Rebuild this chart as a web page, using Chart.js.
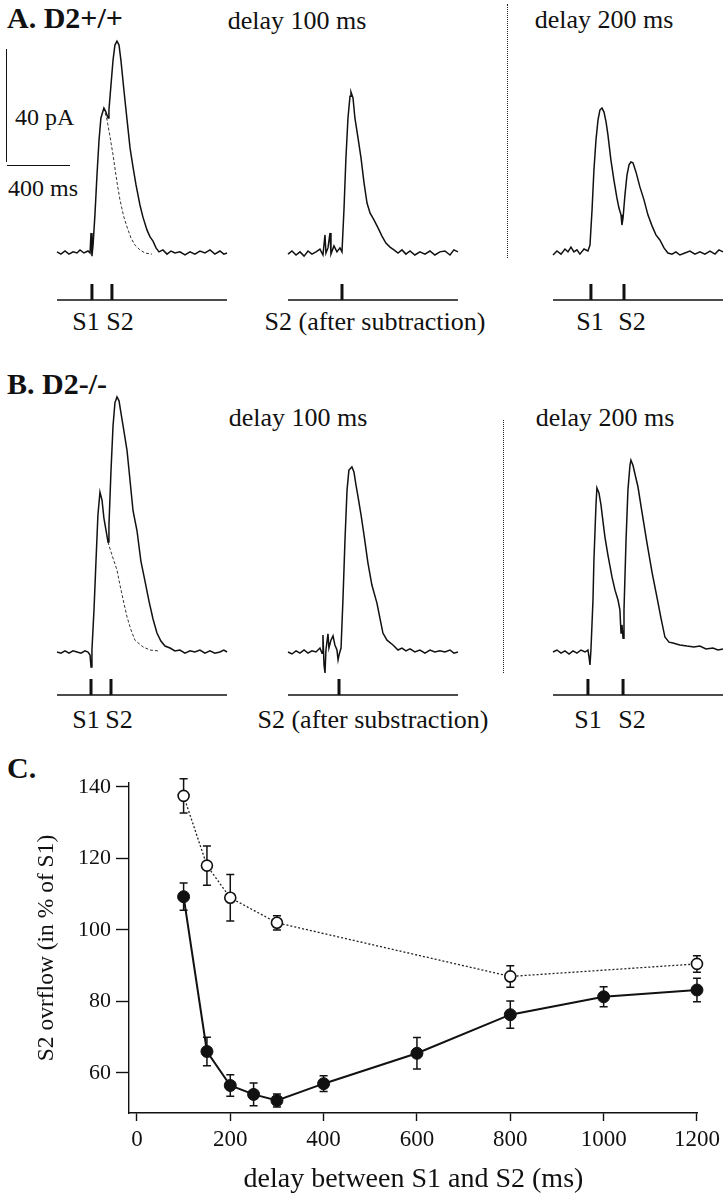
<!DOCTYPE html>
<html>
<head>
<meta charset="utf-8">
<script src="https://cdn.jsdelivr.net/npm/chart.js@4.4.0/dist/chart.umd.min.js"></script>
<style>
  html, body { margin: 0; padding: 0; background: #fff; }
  #fig { position: relative; width: 725px; height: 1199px; overflow: hidden;
         font-family: "Liberation Serif", "Times New Roman", serif; color: #111; }
  .lbl { position: absolute; white-space: nowrap; line-height: 1; transform: translate(-50%, -50%); }
  .lbl.start { transform: translate(0, -50%); }
  .head { font-weight: bold; font-size: 30px; }
  .t26 { font-size: 26px; }
  .t24 { font-size: 24px; }
  .stim { font-size: 26px; }
  .sep { position: absolute; width: 0; border-left: 1.5px dotted #222; }
  .bar { position: absolute; background: #111; }
  .trace { position: absolute; }
</style>
</head>
<body>
<div id="fig">
  <!-- panel A -->
  <div class="lbl start head" style="left:7px; top:18px;">A. D2+/+</div>
  <div class="lbl t26" style="left:297px; top:21px;">delay 100 ms</div>
  <div class="lbl t26" style="left:604px; top:20px;">delay 200 ms</div>
  <div class="sep" style="left:507px; top:4px; height:254px;"></div>
  <div class="bar" style="left:6px; top:49px; width:1.4px; height:113px;"></div>
  <div class="bar" style="left:7px; top:165px; width:63px; height:1.4px;"></div>
  <div class="lbl start t24" style="left:15px; top:117px;">40 pA</div>
  <div class="lbl start t24" style="left:8px; top:188px;">400 ms</div>
  <div class="lbl stim" style="left:86px; top:322px;">S1</div>
  <div class="lbl stim" style="left:120px; top:322px;">S2</div>
  <div class="lbl stim" style="left:375px; top:322px;">S2 (after subtraction)</div>
  <div class="lbl stim" style="left:590px; top:322px;">S1</div>
  <div class="lbl stim" style="left:632px; top:322px;">S2</div>

  <!-- panel B -->
  <div class="lbl start head" style="left:7px; top:384px;">B. D2-/-</div>
  <div class="lbl t26" style="left:298px; top:418px;">delay 100 ms</div>
  <div class="lbl t26" style="left:605px; top:418px;">delay 200 ms</div>
  <div class="sep" style="left:503px; top:420px; height:253px;"></div>
  <div class="lbl stim" style="left:86px; top:720px;">S1</div>
  <div class="lbl stim" style="left:119px; top:720px;">S2</div>
  <div class="lbl stim" style="left:373px; top:720px;">S2 (after substraction)</div>
  <div class="lbl stim" style="left:588px; top:720px;">S1</div>
  <div class="lbl stim" style="left:632px; top:720px;">S2</div>

  <!-- panel C -->
  <div class="lbl start head" style="left:7px; top:768px;">C.</div>
  <canvas id="curve" width="725" height="439" style="position:absolute; left:0; top:760px;"></canvas>
</div>

<script>
// ---- traces: [time (ms), current (pA above baseline)]
const traceA1 = [[0,0.4],[25,-0.4],[51,0.7],[76,-0.4],[102,0.4],[127,0],[146,1.1],[171,0],[197,0.7],[210,0],
  [216,7.1],[222,-1.1],[229,2.8],[241,13.5],[254,27.6],[267,40],[279,47.8],[298,51.3],[311,49.9],[324,47.8],
  [330,50.6],[343,59.5],[356,68.3],[368,73.6],[381,75],[394,73.6],[406,68.3],[425,57.7],[445,47.1],[464,37.2],
  [483,30.4],[502,24.1],[527,17],[546,12.7],[572,8.1],[591,5.7],[610,4.2],[629,1.8],[648,0.4],[673,1.1],
  [699,-0.4],[724,0.7],[749,0],[781,0.4],[813,-0.7],[845,0.4],[876,-0.4],[908,0.7],[940,0],[972,1.1],
  [1003,-0.4],[1035,0.7],[1060,-0.4],[1080,0]];
const traceA1S1 = [[298,51.3],[318,47.1],[337,41.1],[356,34.7],[381,25.1],[400,18.8],[425,12.7],[445,9.2],
  [470,5.3],[495,2.8],[527,1.1],[559,0],[603,-0.4]];
const traceA2 = [[0,-0.4],[25,0.7],[51,-0.7],[76,0.4],[102,-1.1],[127,0.7],[152,-0.4],[178,0.4],[203,1.4],
  [222,-0.7],[235,6.4],[241,0],[254,1.8],[267,7.1],[273,-0.4],[292,2.5],[311,0.4],[330,1.8],[343,0.4],
  [356,15.9],[368,33.6],[381,47.8],[394,55.5],[400,57],[413,54.9],[425,47.8],[445,40.7],[464,33.6],[483,24.8],
  [502,17.7],[521,14.2],[546,11.7],[572,8.9],[597,6],[622,3.5],[648,2.1],[673,1.1],[699,0],[724,1.1],
  [749,-0.4],[775,0.7],[806,-0.7],[838,0.4],[870,-0.4],[902,0.7],[933,-0.7],[965,0.4],[997,0.7],[1029,-0.7],
  [1054,1.1],[1080,0.4]];
const traceA3 = [[0,-0.7],[25,0.7],[51,-0.4],[76,1.4],[95,0.4],[114,2.1],[133,0.4],[152,1.1],[171,-0.4],
  [197,1.4],[222,0.7],[235,2.8],[248,15.2],[260,29.4],[273,40],[286,47.1],[298,50.6],[311,51.3],[324,49.9],
  [337,46.4],[349,41.8],[368,32.9],[387,25.8],[406,19.5],[419,15.9],[432,13.5],[438,9.9],[445,12.4],[457,20.5],
  [470,27.6],[483,31.2],[495,32.2],[508,31.9],[527,28.7],[552,23.4],[578,18.8],[603,13.5],[629,9.6],[654,6.4],
  [679,4.6],[705,1.8],[730,0],[756,-0.4],[781,0.4],[806,-0.7],[838,0],[870,0.7],[902,-0.4],[933,0.4],
  [965,-0.4],[997,0.7],[1029,-0.4],[1054,1.1],[1080,0.4]];
const traceB1 = [[0,0],[25,-0.4],[51,0.4],[76,-0.4],[102,0.4],[127,0],[152,-0.4],[178,0.4],[197,0],[210,-1.1],
  [216,-5.3],[222,0.7],[235,14.9],[248,32.6],[260,48.5],[273,56.6],[286,53.8],[298,47.4],[311,43.2],[324,38.9],
  [330,44.9],[343,64.2],[356,80.1],[368,88.2],[381,90.3],[394,88.9],[406,84.7],[425,78.3],[445,71.3],[464,60.7],
  [483,50],[508,43],[533,32.2],[559,25.1],[584,18.1],[610,11.7],[635,6.7],[660,3.9],[686,2.1],[718,1.4],
  [749,0.4],[781,0.7],[813,-0.4],[845,0.4],[876,0],[908,0.7],[940,-0.4],[972,0.4],[1003,-0.4],[1035,0],
  [1060,0.7],[1080,0]];
const traceB1S1 = [[324,38.9],[343,35.4],[362,32.2],[381,29],[400,23.7],[425,17.3],[445,12.4],[470,7.8],
  [495,4.2],[546,1.8],[591,0.7],[641,0.4]];
const traceB2 = [[0,0],[25,-0.7],[51,0.4],[76,-0.4],[102,0.7],[127,-0.4],[152,0.4],[178,0],[203,1.4],[216,-0.4],
  [222,6],[229,-4.6],[235,-7.4],[241,0.7],[254,6.4],[260,1.4],[273,4.2],[286,5.7],[298,2.5],[311,0.7],
  [318,-2.8],[324,-1.1],[337,1.4],[349,18.4],[362,39.6],[375,57.3],[387,64.4],[406,65.5],[419,63.7],[432,59.1],
  [445,54.9],[464,48.5],[483,41.4],[508,31.5],[533,23.7],[565,17.3],[584,12],[603,6.7],[629,4.2],[667,2.5],
  [699,0.7],[724,1.4],[749,0.4],[775,1.1],[806,0],[838,0.7],[870,-0.4],[902,0.7],[933,0],[965,0.4],[997,0],
  [1029,0.7],[1054,-0.4],[1080,0]];
const traceB3 = [[0,0],[25,0.7],[51,-0.4],[76,0.4],[102,-0.7],[127,0.4],[152,-0.4],[178,0.7],[203,0],[222,0.7],
  [229,-1.8],[235,-4.6],[241,0.7],[254,18.4],[260,32.6],[273,52],[279,58.1],[292,56.3],[305,52],[318,46],
  [330,40.7],[349,34.3],[375,26.5],[394,21.9],[413,18.4],[425,14.9],[432,6.7],[438,9.6],[445,4.9],[451,14.9],
  [464,39.6],[476,57.3],[489,66.1],[495,67.9],[508,66.1],[527,61.5],[540,58.4],[565,49.6],[597,38.6],[629,28.3],
  [660,19.5],[686,12],[711,5.3],[737,3.5],[762,3.2],[806,2.5],[851,2.1],[895,1.8],[933,2.1],[972,1.1],
  [1016,1.4],[1048,0.7],[1080,1.1]];

// stimulus times (ms) within each trace window
const stimA1 = [222, 349];
const stimA2 = [343];
const stimA3 = [241, 451];
const stimB1 = [216, 343];
const stimB2 = [324];
const stimB3 = [222, 445];

// ---- panel C: S2 overflow (% of S1) vs delay
const delaysWT = [100, 150, 200, 300, 800, 1200];
const overflowWT = [137.5, 118, 109, 102, 87, 90.5];
const semWT = [4.8, 5.5, 6.5, 2, 3, 2.3];
const delaysKO = [100, 150, 200, 250, 300, 400, 600, 800, 1000, 1200];
const overflowKO = [109.3, 66, 56.5, 54, 52.3, 57, 65.5, 76.3, 81.3, 83.2];
const semKO = [3.8, 4, 3, 3.2, 1.8, 2.2, 4.4, 3.8, 2.8, 3.3];
const xTicks = [0, 200, 400, 600, 800, 1000, 1200];
const yTicks = [60, 80, 100, 120, 140];

// ---- layout
const COL_LEFT = [57, 288, 553];
const COL_WIDTH = 170;
const TRACE_MS = 1080;
const ROW_A = { top: 30, height: 280, yMin: -20.18, yMax: 78.94 };
const ROW_B = { top: 380, height: 325, yMin: -18.76, yMax: 96.28 };

Chart.defaults.font.family = "'Liberation Serif', 'Times New Roman', serif";
Chart.defaults.color = "#111";

// stimulus line + tick marks under each trace
const stimMarks = {
  id: "stimMarks",
  afterDraw(chart, args, opts) {
    const { ctx, chartArea, scales: { x } } = chart;
    const yLine = chartArea.bottom - 10;
    ctx.save();
    ctx.strokeStyle = "#111";
    ctx.lineWidth = 1.4;
    ctx.beginPath();
    ctx.moveTo(x.getPixelForValue(0), yLine);
    ctx.lineTo(x.getPixelForValue(TRACE_MS), yLine);
    ctx.stroke();
    ctx.lineWidth = 3;
    (opts.times || []).forEach((t) => {
      const px = x.getPixelForValue(t);
      ctx.beginPath();
      ctx.moveTo(px, yLine);
      ctx.lineTo(px, yLine - 16);
      ctx.stroke();
    });
    ctx.restore();
  }
};

function makeTrace(col, row, solid, dashed, stims) {
  const canvas = document.createElement("canvas");
  canvas.className = "trace";
  canvas.width = COL_WIDTH + 4;
  canvas.height = row.height;
  canvas.style.left = (COL_LEFT[col] - 2) + "px";
  canvas.style.top = row.top + "px";
  document.getElementById("fig").appendChild(canvas);

  const datasets = [{
    data: solid.map(([x, y]) => ({ x, y })),
    showLine: true, pointRadius: 0, borderColor: "#111", borderWidth: 1.5, clip: false
  }];
  if (dashed) {
    datasets.push({
      data: dashed.map(([x, y]) => ({ x, y })),
      showLine: true, pointRadius: 0, borderColor: "#333", borderWidth: 1, borderDash: [3, 2], clip: false
    });
  }

  return new Chart(canvas.getContext("2d"), {
    type: "scatter",
    data: { datasets },
    plugins: [stimMarks],
    options: {
      responsive: false,
      animation: false,
      events: [],
      layout: { padding: { left: 2, right: 2, top: 0, bottom: 0 } },
      scales: {
        x: { type: "linear", min: 0, max: TRACE_MS, display: false },
        y: { type: "linear", min: row.yMin, max: row.yMax, display: false }
      },
      plugins: { legend: { display: false }, tooltip: { enabled: false }, stimMarks: { times: stims } }
    }
  });
}

makeTrace(0, ROW_A, traceA1, traceA1S1, stimA1);
makeTrace(1, ROW_A, traceA2, null, stimA2);
makeTrace(2, ROW_A, traceA3, null, stimA3);
makeTrace(0, ROW_B, traceB1, traceB1S1, stimB1);
makeTrace(1, ROW_B, traceB2, null, stimB2);
makeTrace(2, ROW_B, traceB3, null, stimB3);

// ---- panel C
const errorBars = {
  id: "errorBars",
  beforeDatasetsDraw(chart) {
    const { ctx, scales: { x, y } } = chart;
    ctx.save();
    ctx.strokeStyle = "#111";
    ctx.lineWidth = 1.5;
    chart.data.datasets.forEach((ds) => {
      ds.data.forEach((p, i) => {
        const px = x.getPixelForValue(p.x);
        const lo = y.getPixelForValue(p.y - ds.sem[i]);
        const hi = y.getPixelForValue(p.y + ds.sem[i]);
        ctx.beginPath();
        ctx.moveTo(px, lo); ctx.lineTo(px, hi);
        ctx.moveTo(px - 4, lo); ctx.lineTo(px + 4, lo);
        ctx.moveTo(px - 4, hi); ctx.lineTo(px + 4, hi);
        ctx.stroke();
      });
    });
    ctx.restore();
  }
};

const axisFont = { size: 22 };

new Chart(document.getElementById("curve").getContext("2d"), {
  type: "scatter",
  data: {
    datasets: [
      {
        data: delaysWT.map((d, i) => ({ x: d, y: overflowWT[i] })),
        sem: semWT,
        showLine: true, borderColor: "#222", borderWidth: 1.3, borderDash: [2, 2],
        pointRadius: 5.5, pointBorderWidth: 1.6, pointBackgroundColor: "#fff", pointBorderColor: "#111", clip: false
      },
      {
        data: delaysKO.map((d, i) => ({ x: d, y: overflowKO[i] })),
        sem: semKO,
        showLine: true, borderColor: "#111", borderWidth: 2,
        pointRadius: 6, pointBorderWidth: 1, pointBackgroundColor: "#111", pointBorderColor: "#111", clip: false
      }
    ]
  },
  plugins: [errorBars],
  options: {
    responsive: false,
    animation: false,
    events: [],
    layout: { padding: { left: 0, right: 22, top: 23, bottom: 0 } },
    scales: {
      x: {
        type: "linear", min: -17, max: 1202,
        afterBuildTicks: (axis) => { axis.ticks = xTicks.map((v) => ({ value: v })); },
        afterFit: (axis) => { axis.height = 86; },
        grid: { drawOnChartArea: false, drawTicks: true, tickLength: 8, tickColor: "#111", tickWidth: 1.4 },
        border: { display: true, color: "#111", width: 1.4 },
        ticks: { font: { size: 23 }, color: "#111", padding: 5, maxRotation: 0, callback: (v) => String(v) },
        title: { display: true, text: "delay between S1 and S2 (ms)", font: { size: 28 }, color: "#111",
                 padding: { top: 0, bottom: 3 } }
      },
      y: {
        type: "linear", min: 48.8, max: 141.1,
        afterBuildTicks: (axis) => { axis.ticks = yTicks.map((v) => ({ value: v })); },
        afterFit: (axis) => { axis.width = 129; },
        grid: { drawOnChartArea: false, drawTicks: true, tickLength: 13, tickColor: "#111", tickWidth: 1.4 },
        border: { display: true, color: "#111", width: 1.4 },
        ticks: { font: axisFont, color: "#111", padding: 5, callback: (v) => String(v) },
        title: { display: true, text: "S2 ovrflow (in % of S1)", font: { size: 23.5 }, color: "#111",
                 padding: { top: 33, bottom: 0 } }
      }
    },
    plugins: { legend: { display: false }, tooltip: { enabled: false } }
  }
});
</script>
</body>
</html>
